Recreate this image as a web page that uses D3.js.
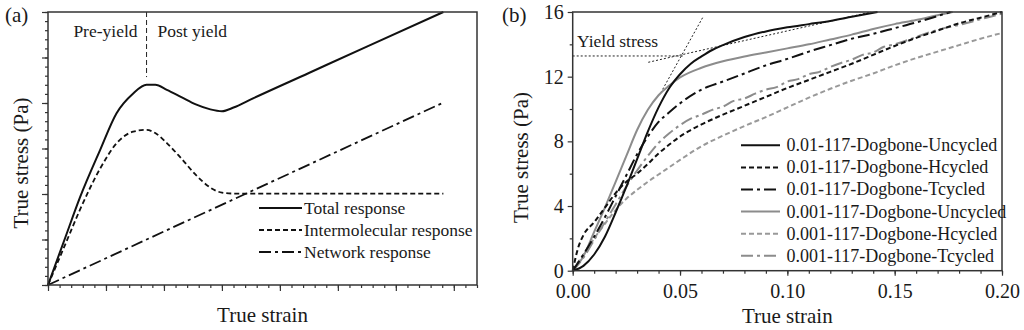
<!DOCTYPE html>
<html>
<head>
<meta charset="utf-8">
<script src="https://cdn.jsdelivr.net/npm/d3@7"></script>
<style>
body { margin: 0; background: #fff; }
svg text { font-family: "Liberation Serif", "DejaVu Serif", serif; fill: #1a1a1a; }
</style>
</head>
<body>
<svg id="chart" width="1024" height="330"></svg>
<script>
// ---- panel (a): schematic, arbitrary units (one unit = one major tick)
var aStrain = [0, 0.3, 0.55, 0.9, 1.18, 1.47, 1.7, 1.85, 2.05, 2.3, 2.55, 2.8, 3.0, 3.2, 3.5, 4.5, 5.5, 6.82]
var aTotal = [0, 1.05, 1.92, 2.97, 3.77, 4.21, 4.40, 4.40, 4.29, 4.13, 3.97, 3.86, 3.82, 3.9, 4.08, 4.66, 5.24, 6.0]
var aInter = [0, 0.9, 1.65, 2.56, 3.11, 3.37, 3.41, 3.34, 3.12, 2.78, 2.42, 2.14, 2.03, 2.01, 2.01, 2.01, 2.01, 2.01]
var aNetStrain = [0, 6.82]
var aNetwork = [0, 4.01]
var aYieldStrain = 1.7
var aLegend = ['Total response', 'Intermolecular response', 'Network response']

// ---- panel (b): measured curves
var u01Strain = [0, 0.005, 0.01, 0.015, 0.02, 0.025, 0.03, 0.035, 0.04, 0.045, 0.05, 0.055, 0.06, 0.065, 0.07, 0.08, 0.09, 0.10, 0.11, 0.12, 0.13, 0.142]
var u01Stress = [0, 0.3, 1.0, 2.1, 3.6, 5.2, 6.9, 8.6, 10.1, 11.3, 12.15, 12.8, 13.25, 13.65, 13.95, 14.45, 14.8, 15.05, 15.25, 15.45, 15.7, 16.0]
var h01Strain = [0, 0.0025, 0.005, 0.01, 0.015, 0.02, 0.025, 0.03, 0.035, 0.04, 0.045, 0.05, 0.055, 0.06, 0.07, 0.08, 0.09, 0.10, 0.11, 0.12, 0.13, 0.14, 0.15, 0.16, 0.17, 0.18, 0.19, 0.20]
var h01Stress = [0, 1.4, 2.2, 3.0, 3.9, 4.8, 5.5, 6.0, 6.6, 7.25, 7.8, 8.3, 8.7, 9.05, 9.65, 10.2, 10.75, 11.3, 11.8, 12.3, 12.8, 13.35, 13.9, 14.4, 14.85, 15.3, 15.65, 16.0]
var t01Strain = [0, 0.005, 0.01, 0.015, 0.02, 0.025, 0.03, 0.035, 0.04, 0.045, 0.05, 0.06, 0.07, 0.08, 0.09, 0.10, 0.11, 0.12, 0.13, 0.14, 0.15, 0.16, 0.17, 0.176]
var t01Stress = [0, 1.0, 2.1, 3.3, 4.6, 5.9, 7.2, 8.3, 9.2, 9.8, 10.35, 11.2, 11.7, 12.2, 12.7, 13.1, 13.55, 13.95, 14.35, 14.65, 15.0, 15.35, 15.75, 16.0]
var u001Strain = [0, 0.005, 0.01, 0.015, 0.02, 0.025, 0.03, 0.035, 0.04, 0.045, 0.05, 0.06, 0.07, 0.08, 0.09, 0.10, 0.11, 0.12, 0.13, 0.14, 0.15, 0.16, 0.17, 0.177]
var u001Stress = [0, 0.9, 2.4, 3.9, 5.5, 7.1, 8.7, 9.95, 10.85, 11.45, 11.95, 12.55, 12.95, 13.25, 13.5, 13.75, 14.0, 14.3, 14.6, 14.95, 15.25, 15.5, 15.8, 16.0]
var h001Strain = [0, 0.005, 0.01, 0.015, 0.02, 0.025, 0.03, 0.035, 0.04, 0.045, 0.05, 0.06, 0.07, 0.08, 0.09, 0.10, 0.11, 0.12, 0.13, 0.14, 0.15, 0.16, 0.17, 0.18, 0.19, 0.20]
var h001Stress = [0, 1.0, 2.0, 2.9, 3.75, 4.45, 5.0, 5.5, 5.95, 6.4, 6.85, 7.7, 8.35, 8.95, 9.5, 10.1, 10.7, 11.25, 11.75, 12.2, 12.7, 13.15, 13.55, 13.95, 14.35, 14.7]
var t001Strain = [0, 0.005, 0.01, 0.015, 0.02, 0.025, 0.03, 0.035, 0.04, 0.045, 0.05, 0.055, 0.06, 0.065, 0.07, 0.075, 0.08, 0.085, 0.09, 0.095, 0.10, 0.105, 0.11, 0.115, 0.12, 0.125, 0.13, 0.135, 0.14, 0.145, 0.15, 0.16, 0.17, 0.18, 0.19, 0.20]
var t001Stress = [0, 0.8, 1.9, 3.0, 4.1, 5.2, 6.2, 7.1, 7.9, 8.5, 9.0, 9.4, 9.65, 9.95, 10.15, 10.5, 10.65, 10.95, 11.2, 11.35, 11.7, 11.85, 12.15, 12.3, 12.6, 12.85, 13.05, 13.35, 13.5, 13.85, 14.0, 14.45, 14.9, 15.2, 15.55, 15.9]
var bLegend = ['0.01-117-Dogbone-Uncycled', '0.01-117-Dogbone-Hcycled', '0.01-117-Dogbone-Tcycled',
    '0.001-117-Dogbone-Uncycled', '0.001-117-Dogbone-Hcycled', '0.001-117-Dogbone-Tcycled']
var bYTicks = [0, 4, 8, 12, 16]
var bXTicks = [0, 0.05, 0.10, 0.15, 0.20]
// yield construction lines: [strain, stress] end points
var yieldFlat = [[0, 13.28], [0.052, 13.28]]
var yieldSteep = [[0.041, 11.0], [0.0607, 15.69]]
var yieldShallow = [[0.0352, 12.89], [0.139, 16.0]]

var svg = d3.select('#chart')
var axisColor = '#333'
var dashed = '5,3', dashDot = '12,4,3,4'

function zip (xs, ys) {
    return xs.map(function (v, i) { return [v, ys[i]] })
}

function ticks (g, axis) {
    g.call(axis)
    g.select('.domain').remove()
    g.selectAll('line').attr('stroke', axisColor).attr('stroke-width', 1.2)
}

function DrawPanelA () {
    var x = d3.scaleLinear().domain([0, 7.4]).range([48, 477])
    var y = d3.scaleLinear().domain([0, 6]).range([285, 12])
    var g = svg.append('g')

    ticks(g.append('g').attr('transform', 'translate(48,0)'),
        d3.axisLeft(y).tickValues(d3.range(0, 6.01, 0.2)).tickSize(3).tickFormat(''))
    ticks(g.append('g').attr('transform', 'translate(48,0)'),
        d3.axisLeft(y).tickValues(d3.range(0, 7)).tickSize(6).tickFormat(''))
    ticks(g.append('g').attr('transform', 'translate(0,285)'),
        d3.axisBottom(x).tickValues(d3.range(0, 7.41, 0.2)).tickSize(3).tickFormat(''))
    ticks(g.append('g').attr('transform', 'translate(0,285)'),
        d3.axisBottom(x).tickValues(d3.range(0, 8)).tickSize(6).tickFormat(''))

    var line = d3.line().x(d => x(d[0])).y(d => y(d[1])).curve(d3.curveMonotoneX)
    g.append('path').attr('d', line(zip(aNetStrain, aNetwork)))
        .attr('fill', 'none').attr('stroke', '#111').attr('stroke-width', 1.8).attr('stroke-dasharray', dashDot)
    g.append('path').attr('d', line(zip(aStrain, aInter)))
        .attr('fill', 'none').attr('stroke', '#111').attr('stroke-width', 1.8).attr('stroke-dasharray', dashed)
    g.append('path').attr('d', line(zip(aStrain, aTotal)))
        .attr('fill', 'none').attr('stroke', '#111').attr('stroke-width', 2)

    g.append('line')
        .attr('x1', x(aYieldStrain)).attr('x2', x(aYieldStrain))
        .attr('y1', y(6)).attr('y2', y(4.57))
        .attr('stroke', '#222').attr('stroke-width', 1).attr('stroke-dasharray', '5,3')
    g.append('text').attr('x', x(aYieldStrain) - 9).attr('y', 37)
        .attr('text-anchor', 'end').attr('font-size', '17.5px').text('Pre-yield')
    g.append('text').attr('x', x(aYieldStrain) + 11).attr('y', 37)
        .attr('font-size', '17.5px').text('Post yield')

    g.append('rect').attr('x', 48).attr('y', 12).attr('width', 429).attr('height', 273)
        .attr('fill', 'none').attr('stroke', axisColor).attr('stroke-width', 1.5)

    var styles = [null, dashed, dashDot]
    for (let i = 0; i < aLegend.length; i++) {
        var ly = 208 + 22 * i
        g.append('line').attr('x1', 259).attr('x2', 302).attr('y1', ly).attr('y2', ly)
            .attr('stroke', '#111').attr('stroke-width', 2).attr('stroke-dasharray', styles[i])
        g.append('text').attr('x', 304).attr('y', ly).attr('dy', '0.33em')
            .attr('font-size', '17.5px').text(aLegend[i])
    }

    g.append('text').attr('x', 262.5).attr('y', 322).attr('text-anchor', 'middle')
        .attr('font-size', '21px').text('True strain')
    g.append('text').attr('transform', 'translate(28,163) rotate(-90)').attr('text-anchor', 'middle')
        .attr('font-size', '21px').text('True stress (Pa)')
    g.append('text').attr('x', 5).attr('y', 22).attr('font-size', '21px').text('(a)')
}

function DrawPanelB () {
    var x = d3.scaleLinear().domain([0, 0.2]).range([572.7, 1002])
    var y = d3.scaleLinear().domain([0, 16]).range([270.7, 12])
    var g = svg.append('g')

    ticks(g.append('g').attr('transform', 'translate(572.7,0)'),
        d3.axisLeft(y).tickValues([2, 6, 10, 14]).tickSize(3).tickFormat(''))
    var yAxis = g.append('g').attr('transform', 'translate(572.7,0)')
    ticks(yAxis, d3.axisLeft(y).tickValues(bYTicks).tickSize(5).tickPadding(4).tickFormat(d3.format('d')))
    ticks(g.append('g').attr('transform', 'translate(0,270.7)'),
        d3.axisBottom(x).tickValues(d3.range(0, 0.2001, 0.01)).tickSize(3).tickFormat(''))
    var xAxis = g.append('g').attr('transform', 'translate(0,270.7)')
    ticks(xAxis, d3.axisBottom(x).tickValues(bXTicks).tickSize(5).tickPadding(8).tickFormat(d3.format('.2f')))
    g.selectAll('.tick text').attr('font-size', '20px').attr('font-family', null).attr('fill', '#1a1a1a')

    var line = d3.line().x(d => x(d[0])).y(d => y(d[1])).curve(d3.curveMonotoneX)
    var thin = d3.line().x(d => x(d[0])).y(d => y(d[1]))
    ;[yieldFlat, yieldSteep, yieldShallow].forEach(function (seg) {
        g.append('path').attr('d', thin(seg)).attr('fill', 'none')
            .attr('stroke', '#222').attr('stroke-width', 1).attr('stroke-dasharray', '2,2')
    })

    var grey = '#8c8c8c'
    var series = [
        { xs: u01Strain, ys: u01Stress, color: '#111', dash: null },
        { xs: h01Strain, ys: h01Stress, color: '#111', dash: dashed },
        { xs: t01Strain, ys: t01Stress, color: '#111', dash: dashDot },
        { xs: u001Strain, ys: u001Stress, color: grey, dash: null },
        { xs: h001Strain, ys: h001Stress, color: '#999', dash: '5,3' },
        { xs: t001Strain, ys: t001Stress, color: grey, dash: dashDot }
    ]
    var order = [4, 5, 3, 1, 2, 0]
    order.forEach(function (i) {
        var s = series[i]
        g.append('path').attr('d', line(zip(s.xs, s.ys))).attr('fill', 'none')
            .attr('stroke', s.color).attr('stroke-width', 2).attr('stroke-dasharray', s.dash)
    })

    g.append('text').attr('x', 577).attr('y', 47).attr('font-size', '17.5px').text('Yield stress')

    g.append('rect').attr('x', 572.7).attr('y', 12).attr('width', 1002 - 572.7).attr('height', 270.7 - 12)
        .attr('fill', 'none').attr('stroke', axisColor).attr('stroke-width', 1.5)

    for (let i = 0; i < bLegend.length; i++) {
        var ly = 145.3 + 22.1 * i
        g.append('line').attr('x1', 741).attr('x2', 780).attr('y1', ly).attr('y2', ly)
            .attr('stroke', series[i].color).attr('stroke-width', 2).attr('stroke-dasharray', series[i].dash)
        g.append('text').attr('x', 786.5).attr('y', ly).attr('dy', '0.33em')
            .attr('font-size', '18px').text(bLegend[i])
    }

    g.append('text').attr('x', 787.3).attr('y', 323).attr('text-anchor', 'middle')
        .attr('font-size', '21px').text('True strain')
    g.append('text').attr('transform', 'translate(528,157.5) rotate(-90)').attr('text-anchor', 'middle')
        .attr('font-size', '21px').text('True stress (Pa)')
    g.append('text').attr('x', 502).attr('y', 22).attr('font-size', '21px').text('(b)')
}

DrawPanelA()
DrawPanelB()
</script>
</body>
</html>
